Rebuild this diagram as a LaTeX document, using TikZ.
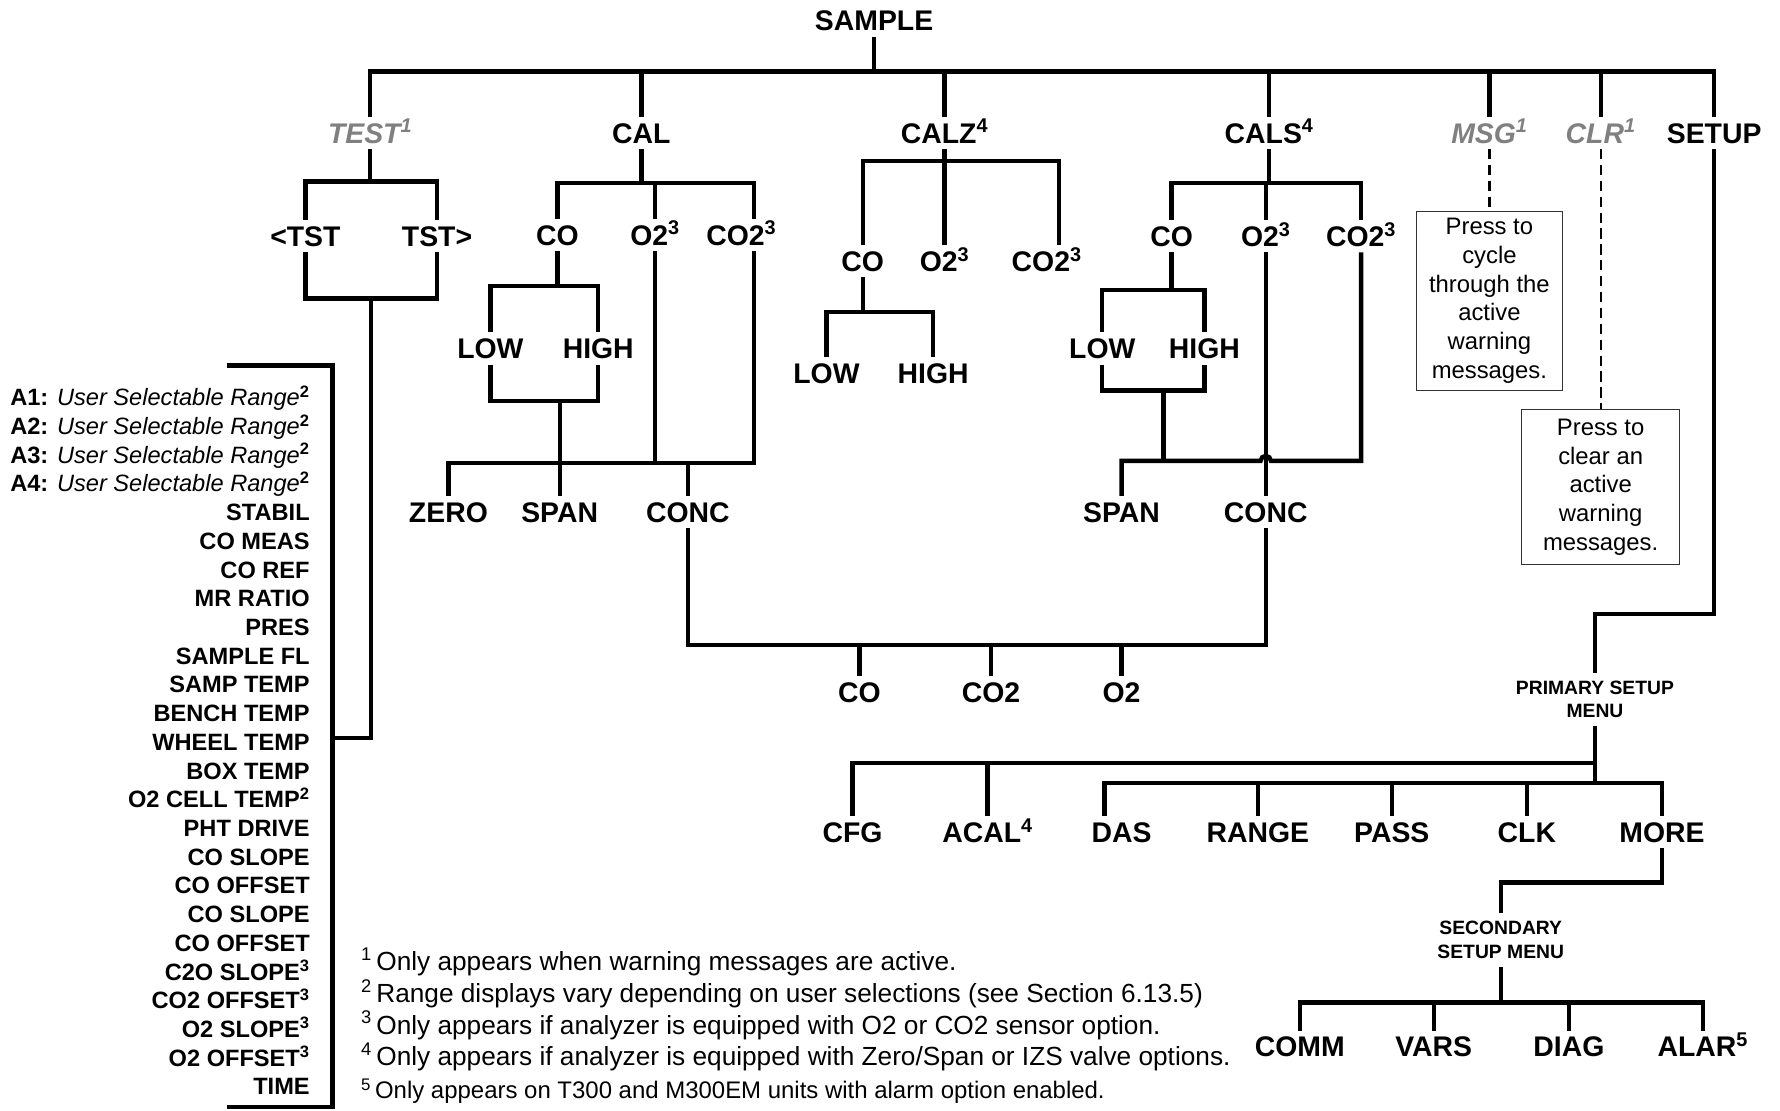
\documentclass[tikz,border=0pt]{standalone}
\usepackage{fontspec}
\setmainfont{Liberation Sans}
\definecolor{optgray}{RGB}{128,128,128}
\begin{document}
\begin{tikzpicture}[x=1pt,y=-1pt,
  conn/.style={line width=3.8pt, line join=miter},
  dashline/.style={line width=2pt, dash pattern=on 9pt off 5pt},
  lbl/.style={font=\bfseries\fontsize{25}{30}\selectfont, text height=18pt, text depth=0pt, inner sep=5pt},
  glbl/.style={lbl, font=\bfseries\itshape\fontsize{25}{30}\selectfont, text=optgray},
  smlbl/.style={font=\bfseries\fontsize{17}{21}\selectfont, align=center, inner sep=3pt, outer sep=4pt},
  listtxt/.style={font=\bfseries\fontsize{20.8}{25}\selectfont, anchor=base east, inner sep=0pt},
  notebox/.style={draw=black!80, line width=0.8pt, align=center, inner sep=0pt,
    font=\fontsize{21}{25.3}\selectfont},
  foot/.style={font=\fontsize{23.1}{28}\selectfont, anchor=base west, inner sep=0pt}
]
\useasboundingbox (0,0) rectangle (1568,978);

% ---------- top level ----------
\node[lbl] (sample) at (770,18) {SAMPLE};
\node[glbl] (test) at (326,117) {TEST\textsuperscript{1}};
\node[lbl] (cal) at (565,117) {CAL};
\node[lbl] (calz) at (832,117) {CALZ\textsuperscript{4}};
\node[lbl] (cals) at (1118,117) {CALS\textsuperscript{4}};
\node[glbl] (msg) at (1312,117) {MSG\textsuperscript{1}};
\node[glbl] (clr) at (1410,117) {CLR\textsuperscript{1}};
\node[lbl] (setup) at (1510,117) {SETUP};

\coordinate (y63) at (0,63);
\draw[conn] (sample.south) -- (sample.south |- y63);
\draw[conn] (test.north) |- (setup.north |- y63) -- (setup.north);
\foreach \n in {cal,calz,cals,msg,clr} \draw[conn] (\n.north) -- (\n.north |- y63);

% ---------- TEST ----------
\coordinate (y160) at (0,160);
\coordinate (y263) at (0,263);
\node[lbl] (ltst) at (269,208) {<TST};
\node[lbl] (rtst) at (385,208) {TST>};
\draw[conn] (test.south) -- (test.south |- y160);
\draw[conn] (ltst.north) |- (rtst.north |- y160) -- (rtst.north);
\draw[conn] (ltst.south) |- (rtst.south |- y263) -- (rtst.south);
\coordinate (tstem) at (327,263);
\coordinate (brkJ) at (293,650);
\draw[conn] (tstem) |- (brkJ);
\coordinate (brkTL) at (200,322);
\coordinate (brkTR) at (293,322);
\coordinate (brkBR) at (293,975);
\coordinate (brkBL) at (200,975);
\draw[conn] (brkTL) -- (brkTR) -- (brkBR) -- (brkBL);

\foreach \t [count=\i] in {
  {A1: {\mdseries\itshape User Selectable Range}\textsuperscript{2}},
  {A2: {\mdseries\itshape User Selectable Range}\textsuperscript{2}},
  {A3: {\mdseries\itshape User Selectable Range}\textsuperscript{2}},
  {A4: {\mdseries\itshape User Selectable Range}\textsuperscript{2}},
  {STABIL},{CO MEAS},{CO REF},{MR RATIO},{PRES},{SAMPLE FL},{SAMP TEMP},
  {BENCH TEMP},{WHEEL TEMP},{BOX TEMP},{O2 CELL TEMP\textsuperscript{2}},
  {PHT DRIVE},{CO SLOPE},{CO OFFSET},{CO SLOPE},{CO OFFSET},
  {C2O SLOPE\textsuperscript{3}},{CO2 OFFSET\textsuperscript{3}},
  {O2 SLOPE\textsuperscript{3}},{O2 OFFSET\textsuperscript{3}},{TIME}}
  \node[listtxt] (li\i) at (273,{357.5+25.29*(\i-1)}) {\t};

% ---------- CAL ----------
\coordinate (y161) at (0,161);
\node[lbl] (cco) at (491,207) {CO};
\node[lbl] (co2) at (577,207) {O2\textsuperscript{3}};
\node[lbl] (cco2) at (653,207) {CO2\textsuperscript{3}};
\coordinate (xcco2) at (664,0);
\draw[conn] (cal.south) -- (cal.south |- y161);
\draw[conn] (cco.north) |- (xcco2 |- y161) -- (xcco2 |- cco2.north);
\draw[conn] (co2.north) -- (co2.north |- y161);

\coordinate (y252) at (0,252);
\coordinate (y353) at (0,353);
\node[lbl] (clow) at (432,307) {LOW};
\node[lbl] (chigh) at (527,307) {HIGH};
\draw[conn] (cco.south) -- (cco.south |- y252);
\draw[conn] (clow.north) |- (chigh.north |- y252) -- (chigh.north);
\draw[conn] (clow.south) |- (chigh.south |- y353) -- (chigh.south);

\coordinate (y408) at (0,408);
\node[lbl] (czero) at (395,451) {ZERO};
\node[lbl] (cspan) at (493,451) {SPAN};
\node[lbl] (cconc) at (606,451) {CONC};
\draw[conn] (cspan.north |- y353) -- (cspan.north);
\draw[conn] (czero.north) |- (xcco2 |- y408) -- (xcco2 |- cco2.south);
\draw[conn] (co2.south) -- (co2.south |- y408);
\draw[conn] (cconc.north) -- (cconc.north |- y408);

% ---------- CALZ ----------
\coordinate (y142) at (0,142);
\node[lbl] (zco) at (760,230) {CO};
\node[lbl] (zo2) at (832,230) {O2\textsuperscript{3}};
\node[lbl] (zco2) at (922,230) {CO2\textsuperscript{3}};
\coordinate (xzco2) at (933,0);
\draw[conn] (calz.south) -- (calz.south |- y142);
\draw[conn] (zco.north) |- (xzco2 |- y142) -- (xzco2 |- zco2.north);
\draw[conn] (zo2.north) -- (zo2.north |- y142);
\coordinate (y275) at (0,275);
\node[lbl] (zlow) at (728,329) {LOW};
\node[lbl] (zhigh) at (822,329) {HIGH};
\draw[conn] (zco.south) -- (zco.south |- y275);
\draw[conn] (zlow.north) |- (zhigh.north |- y275) -- (zhigh.north);

% ---------- CALS ----------
\node[lbl] (sco) at (1032,208) {CO};
\node[lbl] (so2) at (1115,208) {O2\textsuperscript{3}};
\node[lbl] (sco2) at (1199,208) {CO2\textsuperscript{3}};
\draw[conn] (cals.south) -- (cals.south |- y161);
\draw[conn] (sco.north) |- (sco2.north |- y161) -- (sco2.north);
\draw[conn] (so2.north) -- (so2.north |- y161);
\coordinate (y255) at (0,255.5);
\coordinate (y344) at (0,344);
\node[lbl] (slow) at (971,307) {LOW};
\node[lbl] (shigh) at (1061,307) {HIGH};
\draw[conn] (sco.south) -- (sco.south |- y255);
\draw[conn] (slow.north) |- (shigh.north |- y255) -- (shigh.north);
\draw[conn] (slow.south) |- (shigh.south |- y344) -- (shigh.south);
\coordinate (sstem) at (1025,344);
\coordinate (y406) at (0,406);
\draw[conn] (sstem) -- (sstem |- y406);
\node[lbl] (sspan) at (988,451) {SPAN};
\node[lbl] (sconc) at (1115,451) {CONC};
\draw[conn] (so2.south) -- (sconc.north);
\coordinate (hopL) at (1110.5,406);
\draw[conn] (sspan.north) |- (hopL) arc[start angle=180, end angle=0, radius=4.5pt]
  -- (sco2.south |- y406) -- (sco2.south);

% ---------- CONC outputs ----------
\coordinate (y568) at (0,568);
\draw[conn] (cconc.south) |- (sconc.south |- y568) -- (sconc.south);
\node[lbl] (fco) at (757,610) {CO};
\node[lbl] (fco2) at (873,610) {CO2};
\node[lbl] (fo2) at (988,610) {O2};
\foreach \n in {fco,fco2,fo2} \draw[conn] (\n.north) -- (\n.north |- y568);

% ---------- MSG / CLR ----------
\node[notebox, minimum width=128pt, minimum height=158pt] (msgbox) at (1312,265)
  {Press to\\cycle\\through the\\active\\warning\\messages.};
\draw[dashline] (msg.south) -- (msgbox.north);
\node[notebox, minimum width=139pt, minimum height=136pt] (clrbox) at (1410,429)
  {Press to\\clear an\\active\\warning\\messages.};
\draw[dashline] (clr.south) -- (clrbox.north);

% ---------- SETUP ----------
\coordinate (y541) at (0,541);
\node[smlbl] (prim) at (1405,616) {PRIMARY SETUP\\MENU};
\draw[conn] (setup.south) |- (prim.north |- y541) -- (prim.north);

\coordinate (y672) at (0,672);
\coordinate (y690) at (0,690);
\node[lbl] (cfg) at (751,733) {CFG};
\node[lbl] (acal) at (870,733) {ACAL\textsuperscript{4}};
\node[lbl] (das) at (988,733) {DAS};
\node[lbl] (range) at (1108,733) {RANGE};
\node[lbl] (pass) at (1226,733) {PASS};
\node[lbl] (clk) at (1345,733) {CLK};
\node[lbl] (more) at (1464,733) {MORE};
\coordinate (xdas) at (973,0);
\draw[conn] (prim.south) -- (prim.south |- y690);
\draw[conn] (cfg.north) |- (prim.south |- y672);
\draw[conn] (acal.north) -- (acal.north |- y672);
\draw[conn] (xdas |- das.north) |- (more.north |- y690) -- (more.north);
\foreach \n in {range,pass,clk} \draw[conn] (\n.north) -- (\n.north |- y690);

\coordinate (y777) at (0,777.5);
\node[smlbl] (sec) at (1322,828) {SECONDARY\\SETUP MENU};
\draw[conn] (more.south) |- (sec.north |- y777) -- (sec.north);
\coordinate (y883) at (0,883);
\node[lbl] (comm) at (1145,922) {COMM};
\node[lbl] (vars) at (1263,922) {VARS};
\node[lbl] (diag) at (1382,922) {DIAG};
\node[lbl] (alar) at (1500,922) {ALAR\textsuperscript{5}};
\draw[conn] (sec.south) -- (sec.south |- y883);
\draw[conn] (comm.north) |- (alar.north |- y883) -- (alar.north);
\foreach \n in {vars,diag} \draw[conn] (\n.north) -- (\n.north |- y883);

% ---------- footnotes ----------
\node[foot] (fn1) at (318,855) {\textsuperscript{1}\,Only appears when warning messages are active.};
\node[foot] (fn2) at (318,883) {\textsuperscript{2}\,Range displays vary depending on user selections (see Section 6.13.5)};
\node[foot] (fn3) at (318,911) {\textsuperscript{3}\,Only appears if analyzer is equipped with O2 or CO2 sensor option.};
\node[foot] (fn4) at (318,939) {\textsuperscript{4}\,Only appears if analyzer is equipped with Zero/Span or IZS valve options.};
\node[foot, font=\fontsize{21.1}{26}\selectfont] (fn5) at (318,968) {\textsuperscript{5}\,Only appears on T300 and M300EM units with alarm option enabled.};
\end{tikzpicture}
\end{document}
